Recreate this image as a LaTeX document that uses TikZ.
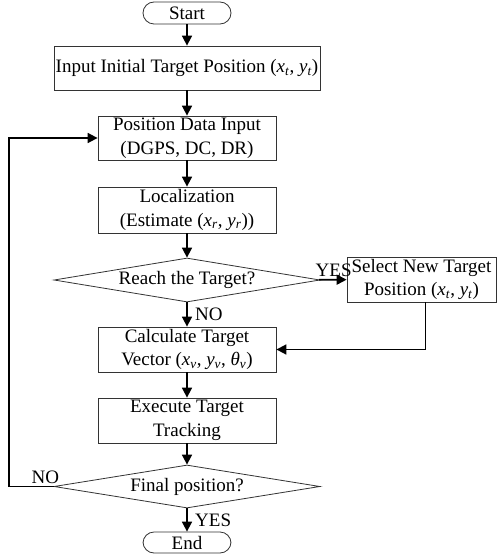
\documentclass[tikz,border=0pt]{standalone}
\usepackage{fontspec}
\setmainfont{Liberation Serif}
\usetikzlibrary{shapes.geometric,arrows.meta}
\newcommand{\pv}[2]{\textit{#1}\textsubscript{\textit{#2}}}
\tikzset{
  box/.style={draw=black!80, line width=0.8pt, minimum width=178pt, minimum height=44pt, inner sep=0pt, align=center},
  term/.style={draw=black!80, line width=0.8pt, rounded corners=11pt, minimum width=88pt, minimum height=22pt, inner sep=0pt},
  test/.style={draw=black!80, line width=0.8pt, diamond, aspect=6.05, minimum width=266pt, minimum height=44pt, inner sep=0pt},
  arr/.style={line width=1.7pt, -{Triangle[length=10pt, width=10pt]}}
}
\begin{document}
\begin{tikzpicture}[x=1pt, y=-1pt, font=\fontsize{19}{23.5}\selectfont]
        \useasboundingbox (0,0) rectangle (501,559);
        \node[term] (start) at (187,13) {Start};
        \node[box, minimum width=266pt] (init) at (187,68) {Input Initial Target Position (\pv{x}{t}, \pv{y}{t})};
        \node[box] (data) at (187,138) {Position Data Input\\(DGPS, DC, DR)};
        \node[box, minimum height=46pt] (loc) at (187,210) {Localization\\(Estimate (\pv{x}{r}, \pv{y}{r}))};
        \node[test] (reach) at (187,280) {Reach the Target?};
        \node[box, minimum width=149pt, minimum height=45pt] (sel) at (421.5,279.5) {Select New Target\\Position (\pv{x}{t}, \pv{y}{t})};
        \node[box, minimum height=45pt] (calc) at (187,349.5) {Calculate Target\\Vector (\pv{x}{v}, \pv{y}{v}, \pv{θ}{v})};
        \node[box, minimum height=45pt] (exec) at (187,420.5) {Execute Target\\Tracking};
        \node[test, minimum height=43pt] (final) at (187,486.5) {Final position?};
        \node[term, minimum height=21pt] (end) at (187,542.5) {End};
        % flow
        \draw[arr] (start) -- (init);
        \draw[arr] (init) -- (data);
        \draw[arr] (data) -- (loc);
        \draw[arr] (loc) -- (reach);
        \draw[arr] (reach) -- node[right, xshift=4pt] {NO} (calc);
        \draw[arr] (reach) -- node[above, xshift=1pt, yshift=-1pt] {YES} (sel);
        \draw[arr] ([xshift=4pt]sel.south) |- (calc.east);
        \draw[arr] (calc) -- (exec);
        \draw[arr] (exec) -- (final);
        \draw[arr] (final) -- node[right, xshift=4pt] {YES} (end);
        % loop back
        \coordinate (bend) at (9,486.5);
        \draw[arr] (final.west) -- node[above, xshift=14pt, yshift=-1pt] {NO} (bend) |- (data.west);
\end{tikzpicture}
\end{document}
